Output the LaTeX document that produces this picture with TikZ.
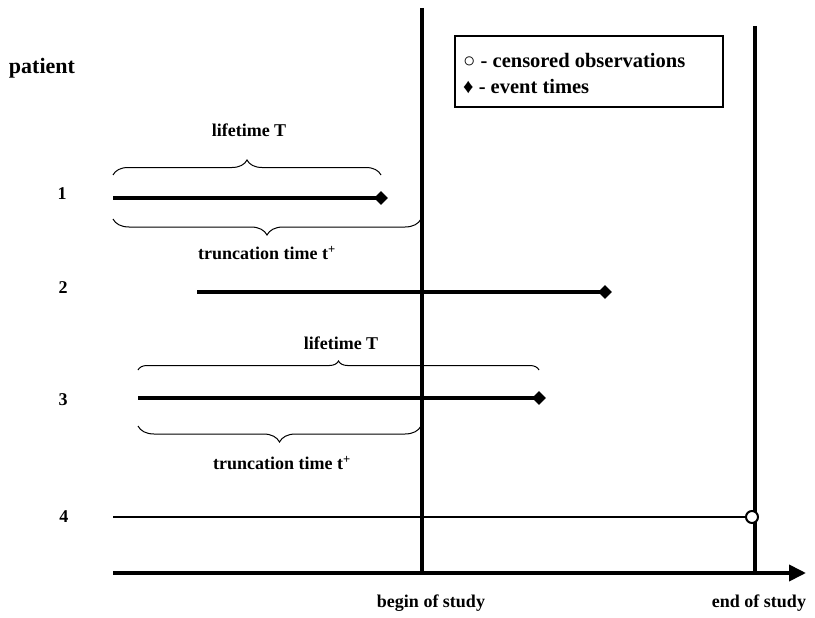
\documentclass[tikz,border=0pt]{standalone}
\usepackage{fontspec}
\setmainfont{Liberation Serif}
\usetikzlibrary{arrows.meta,decorations.pathreplacing,shapes.geometric}
\tikzset{
  lbl/.style={font=\bfseries\fontsize{18}{20}\selectfont, inner sep=0pt},
  num/.style={font=\bfseries\fontsize{18}{20}\selectfont, inner sep=0pt},
  legtxt/.style={font=\bfseries\fontsize{20.5}{22}\selectfont, anchor=west, inner sep=0pt},
  life/.style={line width=3.8pt},
  study/.style={line width=3.4pt},
  evt/.style={diamond, fill=black, inner sep=0pt, minimum size=14pt},
  cens/.style={circle, draw=black, line width=2pt, fill=white, inner sep=0pt, minimum size=12pt},
  brc/.style={decorate, decoration={brace, amplitude=#1}, line width=1pt},
}
\begin{document}
\begin{tikzpicture}[x=1pt,y=-1pt]
\useasboundingbox[fill=white] (0,0) rectangle (815,618);
% study lines and axis
\coordinate (b0) at (422,8);
\coordinate (b1) at (422,573);
\coordinate (f0) at (755,26);
\coordinate (f1) at (755,573);
\coordinate (a0) at (113,573);
\coordinate (a1) at (806,573);
\draw[study] (b0) -- (b1);
\draw[study] (f0) -- (f1);
\draw[line width=3.8pt, -{Triangle[length=17pt,width=16pt]}] (a0) -- (a1);
\node[lbl] (tb) at (431,603) {begin of study};
\node[lbl] (te) at (759,603) {end of study};
% patient label
\node[font=\bfseries\fontsize{22}{24}\selectfont, inner sep=0pt] (pt) at (42,68) {patient};
% patient numbers
\node[num] (n1) at (62,194) {1};
\node[num] (n2) at (63,288) {2};
\node[num] (n3) at (63,400) {3};
\node[num] (n4) at (64,517) {4};
% patient 1
\coordinate (s1) at (113,198);
\node[evt] (e1) at (381,198) {};
\draw[life] (s1) -- (e1.center);
% patient 2
\coordinate (s2) at (197,292);
\node[evt] (e2) at (605,292) {};
\draw[life] (s2) -- (e2.center);
% patient 3
\coordinate (s3) at (138,398);
\node[evt] (e3) at (539,398) {};
\draw[life] (s3) -- (e3.center);
% patient 4
\coordinate (s4) at (113,517);
\node[cens] (c4) at (752,517) {};
\draw[line width=2.8pt] (s4) -- (c4.west);
% braces patient 1
\coordinate (u1a) at (113,175);
\coordinate (u1b) at (381,175);
\draw[brc=15pt] (u1a) -- (u1b);
\node[lbl] (lt1) at (249,130) {lifetime T};
\coordinate (d1a) at (113,219);
\coordinate (d1b) at (421,219);
\draw[brc=16pt] (d1b) -- (d1a);
\node[lbl] (tt1) at (267,253) {truncation time t\textsuperscript{+}};
% braces patient 3
\coordinate (u3a) at (138,370);
\coordinate (u3b) at (539,370);
\draw[brc=9pt] (u3a) -- (u3b);
\node[lbl] (lt3) at (341,343) {lifetime T};
\coordinate (d3a) at (138,426);
\coordinate (d3b) at (421,426);
\draw[brc=16pt] (d3b) -- (d3a);
\node[lbl] (tt3) at (282,463) {truncation time t\textsuperscript{+}};
% legend
\node[draw, line width=1.2pt, minimum width=268pt, minimum height=71pt, inner sep=0pt] (leg) at (589,71.5) {};
\node[legtxt] (l1) at (463,60) {○ - censored observations};
\node[legtxt] (l2) at (463,87) {♦ - event times};
\end{tikzpicture}
\end{document}
